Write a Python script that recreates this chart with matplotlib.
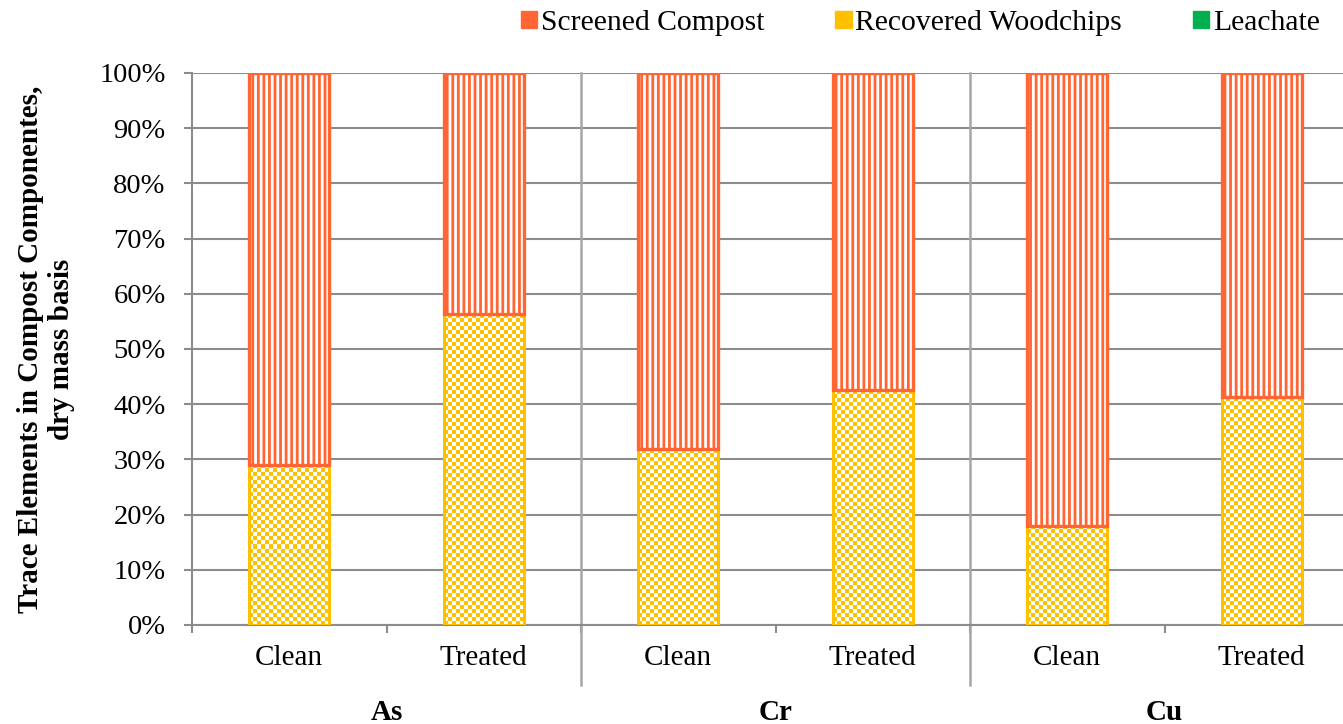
import numpy as np
import matplotlib
matplotlib.use('Agg')
import matplotlib.pyplot as plt
from matplotlib.colors import ListedColormap
from matplotlib.patches import Patch
import matplotlib.transforms as mtransforms

plt.rcParams['font.family'] = ['Liberation Serif', 'DejaVu Serif']
plt.rcParams['hatch.linewidth'] = 2.0

elements = ['As', 'Cr', 'Cu']
treatments = ['Clean', 'Treated', 'Clean', 'Treated', 'Clean', 'Treated']
woodchips = [29.0, 56.3, 31.8, 42.5, 18.0, 41.3]
compost = [71.0, 43.7, 68.2, 57.5, 82.0, 58.7]
leachate = [0.0, 0.0, 0.0, 0.0, 0.0, 0.0]

c_compost = '#FF6633'
c_wood = '#FFC000'
c_leach = '#00B050'
grid_c = '#8C8C8C'

fig = plt.figure(figsize=(13.43, 7.24), dpi=100)
# right edge of the plot runs past the figure, as in the reference
ax = fig.add_axes([192/1343, 99/724, 1167/1343, 552/724])

x = np.arange(len(treatments))
w = 0.41

ax.set_xlim(-0.5, len(treatments) - 0.5)
ax.set_ylim(0, 100)
ax.set_yticks(np.arange(0, 101, 10))
ax.set_yticklabels([f'{v}%' for v in range(0, 101, 10)], fontsize=20.5)
ax.yaxis.grid(True, color=grid_c, lw=1.5)
ax.set_axisbelow(True)
for s in ['top', 'right']:
    ax.spines[s].set_visible(False)
for s in ['left', 'bottom']:
    ax.spines[s].set_color(grid_c)
    ax.spines[s].set_linewidth(1.5)
ax.tick_params(axis='y', colors=grid_c, length=6, width=1.5, pad=13, labelcolor='black')
ax.set_xticks(np.arange(-0.5, len(treatments), 1.0))
ax.set_xticklabels([])
ax.tick_params(axis='x', colors=grid_c, length=6, width=1.5)

# woodchips: checkerboard texture clipped to each bar
cmap = ListedColormap(['white', c_wood])
for xi, v in zip(x, woodchips):
    bar = ax.bar(xi, v, w, facecolor='none', edgecolor=c_wood, lw=2.2, zorder=3)[0]
    ncol = 20
    nrow = max(1, int(round(v * 5.52 / 4)))
    chk = np.indices((nrow, ncol)).sum(axis=0) % 2
    im = ax.imshow(chk, cmap=cmap, extent=(xi - w/2, xi + w/2, 0, v),
                   interpolation='nearest', aspect='auto', zorder=2)
    im.set_clip_path(bar)

ax.bar(x, compost, w, bottom=woodchips, facecolor='white', edgecolor=c_compost,
       hatch='|||', lw=2.4, zorder=3)
top = np.array(woodchips) + np.array(compost)
ax.bar(x, leachate, w, bottom=top, color=c_leach, zorder=3)

ax.set_xlim(-0.5, len(treatments) - 0.5)
ax.set_ylim(0, 100)

trans = mtransforms.blended_transform_factory(ax.transData, ax.transAxes)
for xi, lab in zip(x, treatments):
    ax.text(xi, -0.06, lab, transform=trans, ha='center', va='center', fontsize=21)
for gi, el in enumerate(elements):
    ax.text(2 * gi + 0.5, -0.158, el, transform=trans, ha='center', va='center',
            fontsize=21, fontweight='bold')
for b in [1.5, 3.5]:
    ax.plot([b, b], [-0.109, 1.0], transform=trans, color='#A6A6A6', lw=1.8,
            clip_on=False, zorder=1)

ax.set_ylabel('Trace Elements in Compost Componentes,\ndry mass basis',
              fontsize=21, fontweight='bold', linespacing=1.2)
ax.yaxis.set_label_coords(-0.1, 0.5)

handles = [Patch(facecolor=c_compost, edgecolor=c_compost, label='Screened Compost'),
           Patch(facecolor=c_wood, edgecolor=c_wood, label='Recovered Woodchips'),
           Patch(facecolor=c_leach, edgecolor=c_leach, label='Leachate')]
fig.legend(handles=handles, loc='center left', bbox_to_anchor=(521/1343, 1 - 23/724),
           ncol=3, frameon=False, fontsize=21.3, handlelength=0.55, handleheight=0.55,
           handletextpad=0.12, columnspacing=2.4, borderaxespad=0, borderpad=0)

fig.savefig('out.png', dpi=100, facecolor='white')
